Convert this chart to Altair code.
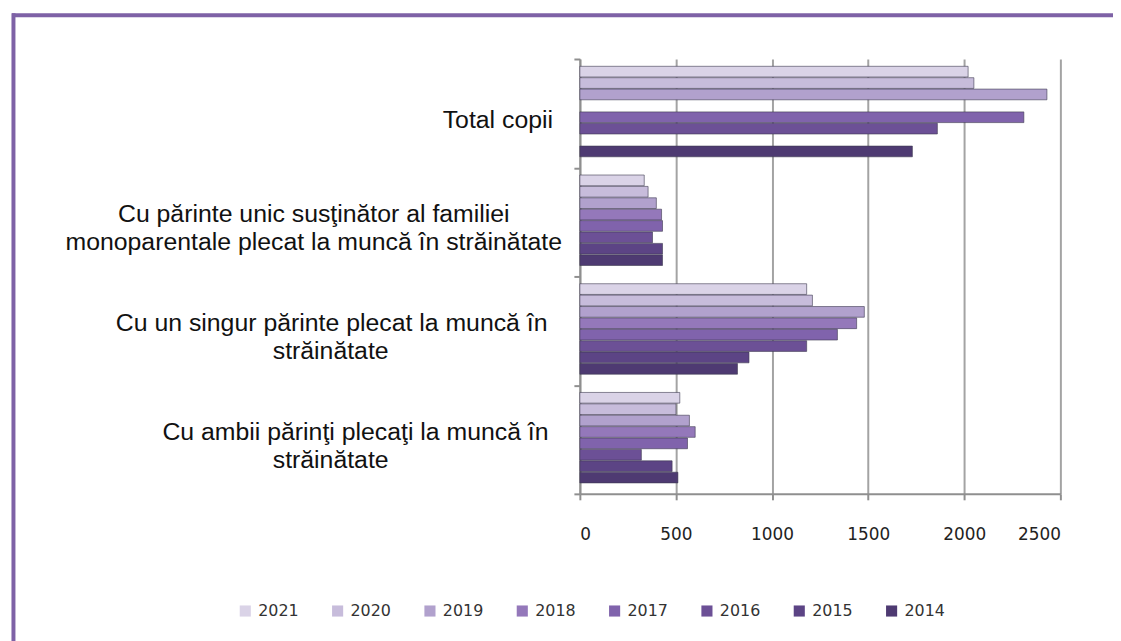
import altair as alt
import pandas as pd

years = ["2021", "2020", "2019", "2018", "2017", "2016", "2015", "2014"]
categories = [
    "Total copii",
    "Cu părinte unic susţinător al familiei monoparentale plecat la muncă în străinătate",
    "Cu un singur părinte plecat la muncă în străinătate",
    "Cu ambii părinţi plecaţi la muncă în străinătate",
]
total_copii = [2020, 2050, 2430, None, 2310, 1860, None, 1730]
parinte_unic = [335, 355, 398, 425, 430, 378, 430, 430]
singur_parinte = [1180, 1210, 1480, 1440, 1340, 1180, 880, 820]
ambii_parinti = [520, 500, 570, 600, 560, 320, 480, 510]
colors = ["#DAD3E7", "#C7BCDB", "#B1A1CD", "#9478BA", "#8063AC", "#6C5096",
          "#5C4485", "#4E3A72"]
tick_values = [0, 500, 1000, 1500, 2000, 2500]

# wrapped category label lines, as laid out in the original
label_total = ["Total copii"]
label_unic_1 = ["Cu părinte unic susţinător al familiei"]
label_unic_2 = ["monoparentale plecat la muncă în străinătate"]
label_singur_1 = ["Cu un singur părinte plecat la muncă în"]
label_ambii_1 = ["Cu ambii părinţi plecaţi la muncă în"]
label_second = ["străinătate", "străinătate"]

rows = []
for cat, series in zip(categories, [total_copii, parinte_unic, singur_parinte, ambii_parinti]):
    for yr, v in zip(years, series):
        if v is not None:
            rows.append({"category": cat, "year": yr, "value": v})
df = pd.DataFrame(rows)

AX = "#8f8f8f"
LABEL_FONT = "Liberation Sans"
LABEL_SIZE = 25

y_enc = alt.Y("category:N", sort=categories,
              scale=alt.Scale(domain=categories, paddingInner=0, paddingOuter=0),
              axis=alt.Axis(title=None, labels=False, tickBand="extent", tickSize=6,
                            tickColor=AX, tickWidth=2, domainColor=AX, domainWidth=2))

bars = alt.Chart(df).mark_bar(stroke="#3d3950", strokeWidth=1, strokeOpacity=0.6).encode(
    x=alt.X("value:Q",
            scale=alt.Scale(domain=[0, 2500], nice=False),
            axis=alt.Axis(values=tick_values, format="d", title=None, grid=True,
                          gridColor="#a3a3a3", gridWidth=2, domainColor=AX,
                          domainWidth=2, tickColor=AX, tickSize=6, tickWidth=2,
                          labelFont="DejaVu Sans", labelFontSize=17,
                          labelColor="#222222", labelPadding=27)),
    y=y_enc,
    yOffset=alt.YOffset("year:N", sort=years,
                        scale=alt.Scale(domain=years, paddingInner=0.06,
                                        paddingOuter=0.8, align=0.4)),
    color=alt.Color("year:N", sort=years,
                    scale=alt.Scale(domain=years, range=colors),
                    legend=alt.Legend(title=None, orient="none", legendX=-345,
                                      legendY=548, direction="horizontal", columns=8,
                                      columnPadding=31, symbolType="square",
                                      symbolSize=125, symbolStrokeWidth=0,
                                      labelFont="DejaVu Sans", labelFontSize=16,
                                      labelColor="#333333", labelOffset=5)),
)


def label_layer(cats, texts, xpix, dy, align):
    d = pd.DataFrame({"category": cats, "text": texts})
    return alt.Chart(d).mark_text(
        align=align, baseline="middle", dy=dy, font=LABEL_FONT,
        fontSize=LABEL_SIZE, color="#111111"
    ).encode(y=alt.Y("category:N", sort=categories), x=alt.value(xpix),
             text="text:N")


labels = [
    label_layer([categories[0]], label_total, -27, 7, "right"),
    label_layer([categories[1]], label_unic_1, -268, -8, "center"),
    label_layer([categories[1]], label_unic_2, -268, 20.5, "center"),
    label_layer([categories[2]], label_singur_1, -250, -8, "center"),
    label_layer([categories[3]], label_ambii_1, -226, -8, "center"),
    label_layer([categories[2], categories[3]], label_second, -251, 20.5, "center"),
]

frame_df = pd.DataFrame({"k": [0]})
FRAME = "#7E62A6"
top_rule = alt.Chart(frame_df).mark_rule(color=FRAME, strokeWidth=4).encode(
    x=alt.value(-572), x2=alt.value(560), y=alt.value(-44))
left_rule = alt.Chart(frame_df).mark_rule(color=FRAME, strokeWidth=4).encode(
    x=alt.value(-570.5), y=alt.value(-46), y2=alt.value(620))

chart = alt.layer(bars, *labels, top_rule, left_rule).properties(
    width=484, height=438,
    autosize=alt.AutoSizeParams(type="none"),
    padding={"left": 576, "top": 49, "right": 53, "bottom": 170},
    background="white",
).configure_view(strokeWidth=0)

chart.save("out.html", embed_options={"renderer": "svg", "actions": False})
